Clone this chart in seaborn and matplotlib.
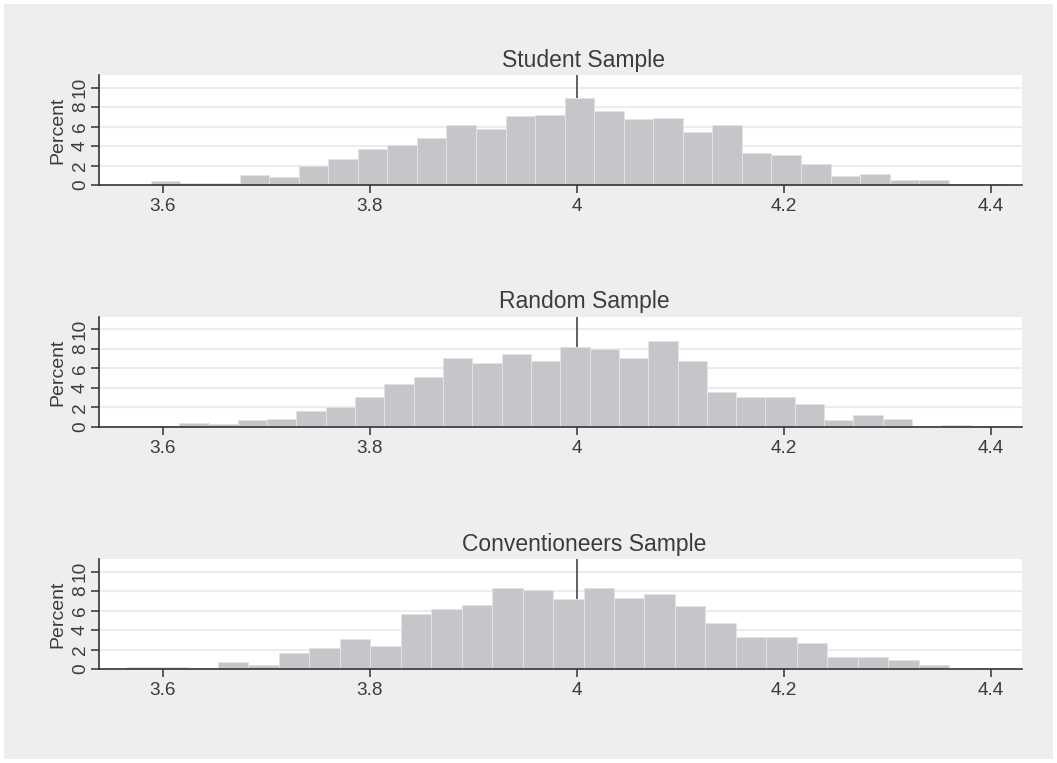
import numpy as np
import pandas as pd
import matplotlib
matplotlib.use("Agg")
import matplotlib.pyplot as plt
from matplotlib.patches import Rectangle
import seaborn as sns

# ---- data (percent per bin) ----
titles = ["Student Sample", "Random Sample", "Conventioneers Sample"]

student_start, student_width = 3.5884, 0.02855
student_pct = [0.38, 0.17, 0.17, 0.99, 0.85, 1.91, 2.63, 3.69, 4.07, 4.79,
               6.15, 5.78, 7.04, 7.21, 8.89, 7.59, 6.74, 6.91, 5.47, 6.12,
               3.25, 3.04, 2.12, 0.96, 1.09, 0.51, 0.55, 0.08, 0.08]

random_start, random_width = 3.5874, 0.02832
random_pct = [0.10, 0.44, 0.27, 0.68, 0.82, 1.61, 2.02, 3.04, 4.38, 5.09,
              7.04, 6.56, 7.45, 6.74, 8.21, 8.00, 7.08, 8.79, 6.77, 3.56,
              3.11, 3.04, 2.32, 0.75, 1.20, 0.82, 0.0, 0.24, 0.08]

conv_start, conv_width = 3.5649, 0.02943
conv_pct = [0.20, 0.20, 0.08, 0.68, 0.45, 1.61, 2.12, 3.05, 2.36, 5.62,
            6.13, 6.61, 8.32, 8.12, 7.16, 8.32, 7.26, 7.67, 6.51, 4.76,
            3.25, 3.25, 2.64, 1.20, 1.20, 0.89, 0.41, 0.0, 0.10]

panels = [(student_start, student_width, student_pct),
          (random_start, random_width, random_pct),
          (conv_start, conv_width, conv_pct)]

xticks = [3.6, 3.8, 4.0, 4.2, 4.4]
xticklabels = ["3.6", "3.8", "4", "4.2", "4.4"]
yticks = [0, 2, 4, 6, 8, 10]
ref_line = 4.0

# ---- style ----
sns.set_theme(style="white")
plt.rcParams["font.family"] = ["Liberation Sans", "DejaVu Sans"]

BG = "#EDEEED"
BAR = "#C5C6C9"
BAR_EDGE = "#E2E2E3"
GRID = "#ECECEC"
AXC = "#333333"
TXT = "#3c3c3c"

W, H = 1057, 763
fig = plt.figure(figsize=(W / 100, H / 100), dpi=100, facecolor="white")
m = 4
fig.patches.append(Rectangle((m / W, m / H), 1 - 2 * m / W, 1 - 2 * m / H,
                             transform=fig.transFigure, facecolor=BG,
                             edgecolor="none", zorder=-10))

left_px, right_px = 99.3, 1022
tops_px = [75, 316.7, 559]
bottoms_px = [185, 427, 669]

for (start, width, pct), title, top, bot in zip(panels, titles, tops_px, bottoms_px):
    ax = fig.add_axes([left_px / W, 1 - bot / H, (right_px - left_px) / W, (bot - top) / H])
    ax.set_facecolor("white")
    n = len(pct)
    edges = [float(start + width * i) for i in range(n + 1)]
    centers = [(edges[i] + edges[i + 1]) / 2 for i in range(n)]
    df = pd.DataFrame({"x": centers, "pct": pct})
    ax.axvline(ref_line, color="#555555", lw=1.3, zorder=1)
    sns.histplot(data=df, x="x", weights="pct", bins=edges, stat="count",
                 color=BAR, edgecolor=BAR_EDGE, linewidth=0.7, alpha=1.0,
                 ax=ax, zorder=2)
    ax.set_xlim(3.5385, 4.430)
    ax.set_ylim(0, 11.3)
    ax.set_yticks(yticks)
    ax.set_yticklabels([str(t) for t in yticks], rotation=90, va="center",
                       fontsize=13.7, color=TXT)
    ax.set_xticks(xticks)
    ax.set_xticklabels(xticklabels, fontsize=13.7, color=TXT)
    for yv in yticks[1:]:
        ax.axhline(yv, color=GRID, lw=1.5, zorder=0)
    ax.set_xlabel("")
    ax.set_ylabel("Percent", fontsize=14, color=TXT, labelpad=4)
    for s in ["top", "right"]:
        ax.spines[s].set_visible(False)
    for s in ["left", "bottom"]:
        ax.spines[s].set_color(AXC)
        ax.spines[s].set_linewidth(1.2)
    ax.tick_params(axis="both", direction="out", length=5.5, width=1.1,
                   color=AXC, pad=4, left=True, bottom=True)
    ax.tick_params(axis="y", pad=2)
    cx = 584 / W
    ty = 1 - (top - 15) / H
    fig.text(cx, ty, title, ha="center", va="center", fontsize=16.5, color=TXT)

fig.savefig("out.png", dpi=100, facecolor="white")
